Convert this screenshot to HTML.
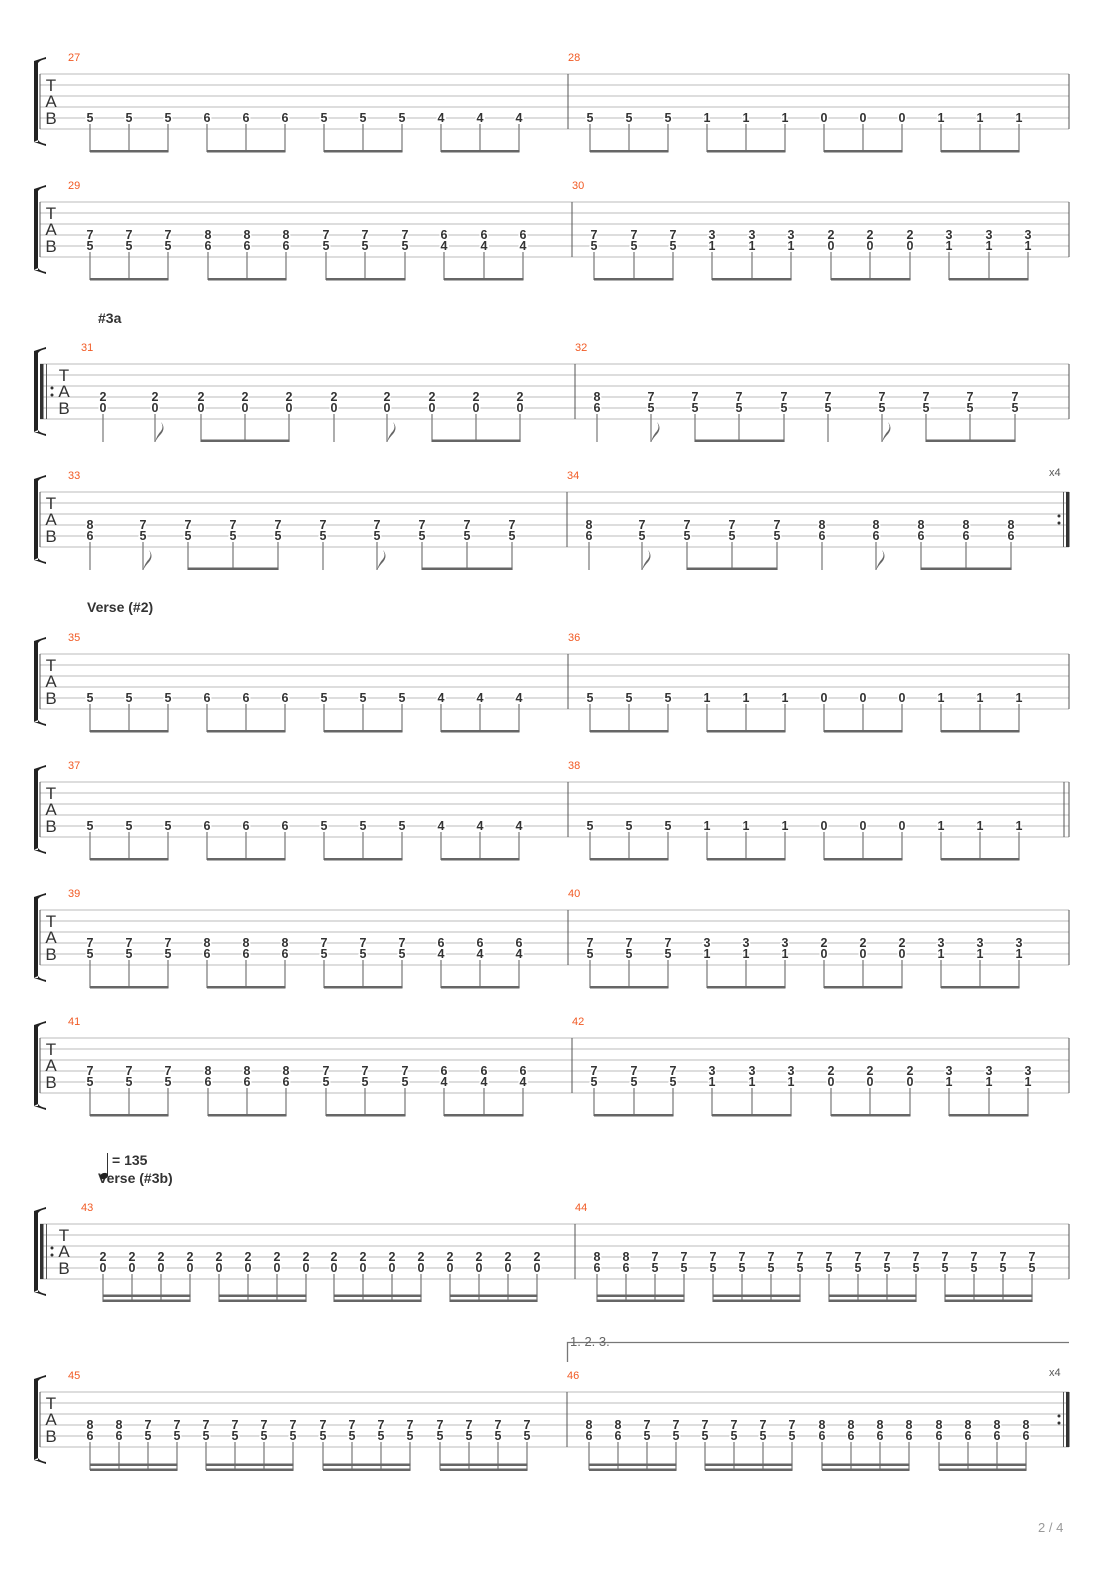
<!DOCTYPE html>
<html><head><meta charset="utf-8"><style>
html,body{margin:0;padding:0;background:#fff;}
svg{display:block;}
.n{font-family:"Liberation Sans",sans-serif;font-size:12.5px;font-weight:bold;fill:#333;text-anchor:middle;stroke:#fff;stroke-width:3px;paint-order:stroke;}
.m{font-family:"Liberation Sans",sans-serif;font-size:11px;fill:#f15a24;}
.tab{font-family:"Liberation Sans",sans-serif;font-size:17px;fill:#333;text-anchor:middle;}
.lbl{font-family:"Liberation Sans",sans-serif;font-size:14px;font-weight:bold;fill:#333;}
.st line{stroke:#bbb;stroke-width:1;}
.sm{stroke:#777;stroke-width:1.2;}
.bm{fill:#666;}
</style></head><body>
<svg width="1110" height="1570" viewBox="0 0 1110 1570" xmlns="http://www.w3.org/2000/svg">

<!-- ============ SYSTEM 1 (27/28) ============ -->
<g transform="translate(0,74)">
<g class="st"><line x1="40" y1="0" x2="1069" y2="0"/><line x1="40" y1="11" x2="1069" y2="11"/><line x1="40" y1="22" x2="1069" y2="22"/><line x1="40" y1="33" x2="1069" y2="33"/><line x1="40" y1="44" x2="1069" y2="44"/><line x1="40" y1="55" x2="1069" y2="55"/></g>
<path d="M34,-13 h4 v81 h-4z M34,-13 q6,-2 12,-4 l0,2 q-6,1 -8,4z M34,68 q6,2 12,4 l0,-2 q-6,-1 -8,-4z" fill="#222"/>
<line x1="40" y1="0" x2="40" y2="55" stroke="#555"/><line x1="568" y1="0" x2="568" y2="55" stroke="#555"/><line x1="1069" y1="0" x2="1069" y2="55" stroke="#555"/>
<text class="tab" x="51" y="17">T</text><text class="tab" x="51" y="33">A</text><text class="tab" x="51" y="50">B</text>
<text class="m" x="68" y="-13">27</text><text class="m" x="568" y="-13">28</text>
<g class="n"><text x="90" y="48">5</text><text x="129" y="48">5</text><text x="168" y="48">5</text><text x="207" y="48">6</text><text x="246" y="48">6</text><text x="285" y="48">6</text><text x="324" y="48">5</text><text x="363" y="48">5</text><text x="402" y="48">5</text><text x="441" y="48">4</text><text x="480" y="48">4</text><text x="519" y="48">4</text><text x="590" y="48">5</text><text x="629" y="48">5</text><text x="668" y="48">5</text><text x="707" y="48">1</text><text x="746" y="48">1</text><text x="785" y="48">1</text><text x="824" y="48">0</text><text x="863" y="48">0</text><text x="902" y="48">0</text><text x="941" y="48">1</text><text x="980" y="48">1</text><text x="1019" y="48">1</text></g>
<path class="sm" d="M90,50V78M129,50V78M168,50V78M207,50V78M246,50V78M285,50V78M324,50V78M363,50V78M402,50V78M441,50V78M480,50V78M519,50V78M590,50V78M629,50V78M668,50V78M707,50V78M746,50V78M785,50V78M824,50V78M863,50V78M902,50V78M941,50V78M980,50V78M1019,50V78"/>
<g class="bm"><rect x="90" y="76" width="78.5" height="2.5"/><rect x="207" y="76" width="78.5" height="2.5"/><rect x="324" y="76" width="78.5" height="2.5"/><rect x="441" y="76" width="78.5" height="2.5"/><rect x="590" y="76" width="78.5" height="2.5"/><rect x="707" y="76" width="78.5" height="2.5"/><rect x="824" y="76" width="78.5" height="2.5"/><rect x="941" y="76" width="78.5" height="2.5"/></g>
</g>

<!-- ============ SYSTEM 2 (29/30) ============ -->
<g transform="translate(0,202)">
<g class="st"><line x1="40" y1="0" x2="1069" y2="0"/><line x1="40" y1="11" x2="1069" y2="11"/><line x1="40" y1="22" x2="1069" y2="22"/><line x1="40" y1="33" x2="1069" y2="33"/><line x1="40" y1="44" x2="1069" y2="44"/><line x1="40" y1="55" x2="1069" y2="55"/></g>
<path d="M34,-13 h4 v81 h-4z M34,-13 q6,-2 12,-4 l0,2 q-6,1 -8,4z M34,68 q6,2 12,4 l0,-2 q-6,-1 -8,-4z" fill="#222"/>
<line x1="40" y1="0" x2="40" y2="55" stroke="#555"/><line x1="572" y1="0" x2="572" y2="55" stroke="#555"/><line x1="1069" y1="0" x2="1069" y2="55" stroke="#555"/>
<text class="tab" x="51" y="17">T</text><text class="tab" x="51" y="33">A</text><text class="tab" x="51" y="50">B</text>
<text class="m" x="68" y="-13">29</text><text class="m" x="572" y="-13">30</text>
<g class="n">
<text x="90" y="37">7</text><text x="90" y="48">5</text><text x="129" y="37">7</text><text x="129" y="48">5</text><text x="168" y="37">7</text><text x="168" y="48">5</text>
<text x="208" y="37">8</text><text x="208" y="48">6</text><text x="247" y="37">8</text><text x="247" y="48">6</text><text x="286" y="37">8</text><text x="286" y="48">6</text>
<text x="326" y="37">7</text><text x="326" y="48">5</text><text x="365" y="37">7</text><text x="365" y="48">5</text><text x="405" y="37">7</text><text x="405" y="48">5</text>
<text x="444" y="37">6</text><text x="444" y="48">4</text><text x="484" y="37">6</text><text x="484" y="48">4</text><text x="523" y="37">6</text><text x="523" y="48">4</text>
<text x="594" y="37">7</text><text x="594" y="48">5</text><text x="634" y="37">7</text><text x="634" y="48">5</text><text x="673" y="37">7</text><text x="673" y="48">5</text>
<text x="712" y="37">3</text><text x="712" y="48">1</text><text x="752" y="37">3</text><text x="752" y="48">1</text><text x="791" y="37">3</text><text x="791" y="48">1</text>
<text x="831" y="37">2</text><text x="831" y="48">0</text><text x="870" y="37">2</text><text x="870" y="48">0</text><text x="910" y="37">2</text><text x="910" y="48">0</text>
<text x="949" y="37">3</text><text x="949" y="48">1</text><text x="989" y="37">3</text><text x="989" y="48">1</text><text x="1028" y="37">3</text><text x="1028" y="48">1</text>
</g>
<path class="sm" d="M90,50V78M129,50V78M168,50V78M208,50V78M247,50V78M286,50V78M326,50V78M365,50V78M405,50V78M444,50V78M484,50V78M523,50V78M594,50V78M634,50V78M673,50V78M712,50V78M752,50V78M791,50V78M831,50V78M870,50V78M910,50V78M949,50V78M989,50V78M1028,50V78"/>
<g class="bm"><rect x="90" y="76" width="78.5" height="2.5"/><rect x="208" y="76" width="78.5" height="2.5"/><rect x="326" y="76" width="79.5" height="2.5"/><rect x="444" y="76" width="79.5" height="2.5"/><rect x="594" y="76" width="79.5" height="2.5"/><rect x="712" y="76" width="79.5" height="2.5"/><rect x="831" y="76" width="79.5" height="2.5"/><rect x="949" y="76" width="79.5" height="2.5"/></g>
</g>

<!-- ============ SYSTEM 3 (31/32) ============ -->
<text class="lbl" x="98" y="323">#3a</text>
<g transform="translate(0,364)">
<g class="st"><line x1="40" y1="0" x2="1069" y2="0"/><line x1="40" y1="11" x2="1069" y2="11"/><line x1="40" y1="22" x2="1069" y2="22"/><line x1="40" y1="33" x2="1069" y2="33"/><line x1="40" y1="44" x2="1069" y2="44"/><line x1="40" y1="55" x2="1069" y2="55"/></g>
<path d="M34,-13 h4 v81 h-4z M34,-13 q6,-2 12,-4 l0,2 q-6,1 -8,4z M34,68 q6,2 12,4 l0,-2 q-6,-1 -8,-4z" fill="#222"/>
<rect x="40" y="0" width="3.5" height="55" fill="#333"/><line x1="46.5" y1="0" x2="46.5" y2="55" stroke="#555"/><circle cx="52" cy="24" r="1.5" fill="#333"/><circle cx="52" cy="31" r="1.5" fill="#333"/>
<line x1="575" y1="0" x2="575" y2="55" stroke="#555"/><line x1="1069" y1="0" x2="1069" y2="55" stroke="#555"/>
<text class="tab" x="64" y="17">T</text><text class="tab" x="64" y="33">A</text><text class="tab" x="64" y="50">B</text>
<text class="m" x="81" y="-13">31</text><text class="m" x="575" y="-13">32</text>
<g class="n">
<text x="103" y="37">2</text><text x="103" y="48">0</text><text x="155" y="37">2</text><text x="155" y="48">0</text><text x="201" y="37">2</text><text x="201" y="48">0</text><text x="245" y="37">2</text><text x="245" y="48">0</text><text x="289" y="37">2</text><text x="289" y="48">0</text>
<text x="334" y="37">2</text><text x="334" y="48">0</text><text x="387" y="37">2</text><text x="387" y="48">0</text><text x="432" y="37">2</text><text x="432" y="48">0</text><text x="476" y="37">2</text><text x="476" y="48">0</text><text x="520" y="37">2</text><text x="520" y="48">0</text>
<text x="597" y="37">8</text><text x="597" y="48">6</text><text x="651" y="37">7</text><text x="651" y="48">5</text><text x="695" y="37">7</text><text x="695" y="48">5</text><text x="739" y="37">7</text><text x="739" y="48">5</text><text x="784" y="37">7</text><text x="784" y="48">5</text>
<text x="828" y="37">7</text><text x="828" y="48">5</text><text x="882" y="37">7</text><text x="882" y="48">5</text><text x="926" y="37">7</text><text x="926" y="48">5</text><text x="970" y="37">7</text><text x="970" y="48">5</text><text x="1015" y="37">7</text><text x="1015" y="48">5</text>
</g>
<path class="sm" d="M103,50V78M155,50V78M201,50V78M245,50V78M289,50V78M334,50V78M387,50V78M432,50V78M476,50V78M520,50V78M597,50V78M651,50V78M695,50V78M739,50V78M784,50V78M828,50V78M882,50V78M926,50V78M970,50V78M1015,50V78"/>
<path d="M155,78 q2,-7 6,-11 q3,-4 0,-9 q5,6 0,12 q-3,3 -6,8z M387,78 q2,-7 6,-11 q3,-4 0,-9 q5,6 0,12 q-3,3 -6,8z M651,78 q2,-7 6,-11 q3,-4 0,-9 q5,6 0,12 q-3,3 -6,8z M882,78 q2,-7 6,-11 q3,-4 0,-9 q5,6 0,12 q-3,3 -6,8z" fill="#666"/>
<g class="bm"><rect x="201" y="75.5" width="88.5" height="2.5"/><rect x="432" y="75.5" width="88.5" height="2.5"/><rect x="695" y="75.5" width="89.5" height="2.5"/><rect x="926" y="75.5" width="89.5" height="2.5"/></g>
</g>

<!-- ============ SYSTEM 4 (33/34) ============ -->
<g transform="translate(0,492)">
<g class="st"><line x1="40" y1="0" x2="1069" y2="0"/><line x1="40" y1="11" x2="1069" y2="11"/><line x1="40" y1="22" x2="1069" y2="22"/><line x1="40" y1="33" x2="1069" y2="33"/><line x1="40" y1="44" x2="1069" y2="44"/><line x1="40" y1="55" x2="1069" y2="55"/></g>
<path d="M34,-13 h4 v81 h-4z M34,-13 q6,-2 12,-4 l0,2 q-6,1 -8,4z M34,68 q6,2 12,4 l0,-2 q-6,-1 -8,-4z" fill="#222"/>
<line x1="40" y1="0" x2="40" y2="55" stroke="#555"/><line x1="567" y1="0" x2="567" y2="55" stroke="#555"/>
<circle cx="1059" cy="24" r="1.5" fill="#333"/><circle cx="1059" cy="31" r="1.5" fill="#333"/><line x1="1063.5" y1="0" x2="1063.5" y2="55" stroke="#555"/><rect x="1066" y="0" width="3.5" height="55" fill="#333"/>
<text x="1049" y="-16" font-family="Liberation Sans, sans-serif" font-size="11" fill="#555">x4</text>
<text class="tab" x="51" y="17">T</text><text class="tab" x="51" y="33">A</text><text class="tab" x="51" y="50">B</text>
<text class="m" x="68" y="-13">33</text><text class="m" x="567" y="-13">34</text>
<g class="n">
<text x="90" y="37">8</text><text x="90" y="48">6</text><text x="143" y="37">7</text><text x="143" y="48">5</text><text x="188" y="37">7</text><text x="188" y="48">5</text><text x="233" y="37">7</text><text x="233" y="48">5</text><text x="278" y="37">7</text><text x="278" y="48">5</text>
<text x="323" y="37">7</text><text x="323" y="48">5</text><text x="377" y="37">7</text><text x="377" y="48">5</text><text x="422" y="37">7</text><text x="422" y="48">5</text><text x="467" y="37">7</text><text x="467" y="48">5</text><text x="512" y="37">7</text><text x="512" y="48">5</text>
<text x="589" y="37">8</text><text x="589" y="48">6</text><text x="642" y="37">7</text><text x="642" y="48">5</text><text x="687" y="37">7</text><text x="687" y="48">5</text><text x="732" y="37">7</text><text x="732" y="48">5</text><text x="777" y="37">7</text><text x="777" y="48">5</text>
<text x="822" y="37">8</text><text x="822" y="48">6</text><text x="876" y="37">8</text><text x="876" y="48">6</text><text x="921" y="37">8</text><text x="921" y="48">6</text><text x="966" y="37">8</text><text x="966" y="48">6</text><text x="1011" y="37">8</text><text x="1011" y="48">6</text>
</g>
<path class="sm" d="M90,50V78M143,50V78M188,50V78M233,50V78M278,50V78M323,50V78M377,50V78M422,50V78M467,50V78M512,50V78M589,50V78M642,50V78M687,50V78M732,50V78M777,50V78M822,50V78M876,50V78M921,50V78M966,50V78M1011,50V78"/>
<path d="M143,78 q2,-7 6,-11 q3,-4 0,-9 q5,6 0,12 q-3,3 -6,8z M377,78 q2,-7 6,-11 q3,-4 0,-9 q5,6 0,12 q-3,3 -6,8z M642,78 q2,-7 6,-11 q3,-4 0,-9 q5,6 0,12 q-3,3 -6,8z M876,78 q2,-7 6,-11 q3,-4 0,-9 q5,6 0,12 q-3,3 -6,8z" fill="#666"/>
<g class="bm"><rect x="188" y="75.5" width="90.5" height="2.5"/><rect x="422" y="75.5" width="90.5" height="2.5"/><rect x="687" y="75.5" width="90.5" height="2.5"/><rect x="921" y="75.5" width="90.5" height="2.5"/></g>
</g>

<!-- ============ SYSTEM 5 (35/36) ============ -->
<text class="lbl" x="87" y="612">Verse (#2)</text>
<g transform="translate(0,654)">
<g class="st"><line x1="40" y1="0" x2="1069" y2="0"/><line x1="40" y1="11" x2="1069" y2="11"/><line x1="40" y1="22" x2="1069" y2="22"/><line x1="40" y1="33" x2="1069" y2="33"/><line x1="40" y1="44" x2="1069" y2="44"/><line x1="40" y1="55" x2="1069" y2="55"/></g>
<path d="M34,-13 h4 v81 h-4z M34,-13 q6,-2 12,-4 l0,2 q-6,1 -8,4z M34,68 q6,2 12,4 l0,-2 q-6,-1 -8,-4z" fill="#222"/>
<line x1="40" y1="0" x2="40" y2="55" stroke="#555"/><line x1="568" y1="0" x2="568" y2="55" stroke="#555"/><line x1="1069" y1="0" x2="1069" y2="55" stroke="#555"/>
<text class="tab" x="51" y="17">T</text><text class="tab" x="51" y="33">A</text><text class="tab" x="51" y="50">B</text>
<text class="m" x="68" y="-13">35</text><text class="m" x="568" y="-13">36</text>
<g class="n"><text x="90" y="48">5</text><text x="129" y="48">5</text><text x="168" y="48">5</text><text x="207" y="48">6</text><text x="246" y="48">6</text><text x="285" y="48">6</text><text x="324" y="48">5</text><text x="363" y="48">5</text><text x="402" y="48">5</text><text x="441" y="48">4</text><text x="480" y="48">4</text><text x="519" y="48">4</text><text x="590" y="48">5</text><text x="629" y="48">5</text><text x="668" y="48">5</text><text x="707" y="48">1</text><text x="746" y="48">1</text><text x="785" y="48">1</text><text x="824" y="48">0</text><text x="863" y="48">0</text><text x="902" y="48">0</text><text x="941" y="48">1</text><text x="980" y="48">1</text><text x="1019" y="48">1</text></g>
<path class="sm" d="M90,50V78M129,50V78M168,50V78M207,50V78M246,50V78M285,50V78M324,50V78M363,50V78M402,50V78M441,50V78M480,50V78M519,50V78M590,50V78M629,50V78M668,50V78M707,50V78M746,50V78M785,50V78M824,50V78M863,50V78M902,50V78M941,50V78M980,50V78M1019,50V78"/>
<g class="bm"><rect x="90" y="76" width="78.5" height="2.5"/><rect x="207" y="76" width="78.5" height="2.5"/><rect x="324" y="76" width="78.5" height="2.5"/><rect x="441" y="76" width="78.5" height="2.5"/><rect x="590" y="76" width="78.5" height="2.5"/><rect x="707" y="76" width="78.5" height="2.5"/><rect x="824" y="76" width="78.5" height="2.5"/><rect x="941" y="76" width="78.5" height="2.5"/></g>
</g>

<!-- ============ SYSTEM 6 (37/38) ============ -->
<g transform="translate(0,782)">
<g class="st"><line x1="40" y1="0" x2="1069" y2="0"/><line x1="40" y1="11" x2="1069" y2="11"/><line x1="40" y1="22" x2="1069" y2="22"/><line x1="40" y1="33" x2="1069" y2="33"/><line x1="40" y1="44" x2="1069" y2="44"/><line x1="40" y1="55" x2="1069" y2="55"/></g>
<path d="M34,-13 h4 v81 h-4z M34,-13 q6,-2 12,-4 l0,2 q-6,1 -8,4z M34,68 q6,2 12,4 l0,-2 q-6,-1 -8,-4z" fill="#222"/>
<line x1="40" y1="0" x2="40" y2="55" stroke="#555"/><line x1="568" y1="0" x2="568" y2="55" stroke="#555"/><line x1="1064" y1="0" x2="1064" y2="55" stroke="#555"/><line x1="1069" y1="0" x2="1069" y2="55" stroke="#555"/>
<text class="tab" x="51" y="17">T</text><text class="tab" x="51" y="33">A</text><text class="tab" x="51" y="50">B</text>
<text class="m" x="68" y="-13">37</text><text class="m" x="568" y="-13">38</text>
<g class="n"><text x="90" y="48">5</text><text x="129" y="48">5</text><text x="168" y="48">5</text><text x="207" y="48">6</text><text x="246" y="48">6</text><text x="285" y="48">6</text><text x="324" y="48">5</text><text x="363" y="48">5</text><text x="402" y="48">5</text><text x="441" y="48">4</text><text x="480" y="48">4</text><text x="519" y="48">4</text><text x="590" y="48">5</text><text x="629" y="48">5</text><text x="668" y="48">5</text><text x="707" y="48">1</text><text x="746" y="48">1</text><text x="785" y="48">1</text><text x="824" y="48">0</text><text x="863" y="48">0</text><text x="902" y="48">0</text><text x="941" y="48">1</text><text x="980" y="48">1</text><text x="1019" y="48">1</text></g>
<path class="sm" d="M90,50V78M129,50V78M168,50V78M207,50V78M246,50V78M285,50V78M324,50V78M363,50V78M402,50V78M441,50V78M480,50V78M519,50V78M590,50V78M629,50V78M668,50V78M707,50V78M746,50V78M785,50V78M824,50V78M863,50V78M902,50V78M941,50V78M980,50V78M1019,50V78"/>
<g class="bm"><rect x="90" y="76" width="78.5" height="2.5"/><rect x="207" y="76" width="78.5" height="2.5"/><rect x="324" y="76" width="78.5" height="2.5"/><rect x="441" y="76" width="78.5" height="2.5"/><rect x="590" y="76" width="78.5" height="2.5"/><rect x="707" y="76" width="78.5" height="2.5"/><rect x="824" y="76" width="78.5" height="2.5"/><rect x="941" y="76" width="78.5" height="2.5"/></g>
</g>

<!-- ============ SYSTEM 7 (39/40) ============ -->
<g transform="translate(0,910)">
<g class="st"><line x1="40" y1="0" x2="1069" y2="0"/><line x1="40" y1="11" x2="1069" y2="11"/><line x1="40" y1="22" x2="1069" y2="22"/><line x1="40" y1="33" x2="1069" y2="33"/><line x1="40" y1="44" x2="1069" y2="44"/><line x1="40" y1="55" x2="1069" y2="55"/></g>
<path d="M34,-13 h4 v81 h-4z M34,-13 q6,-2 12,-4 l0,2 q-6,1 -8,4z M34,68 q6,2 12,4 l0,-2 q-6,-1 -8,-4z" fill="#222"/>
<line x1="40" y1="0" x2="40" y2="55" stroke="#555"/><line x1="568" y1="0" x2="568" y2="55" stroke="#555"/><line x1="1069" y1="0" x2="1069" y2="55" stroke="#555"/>
<text class="tab" x="51" y="17">T</text><text class="tab" x="51" y="33">A</text><text class="tab" x="51" y="50">B</text>
<text class="m" x="68" y="-13">39</text><text class="m" x="568" y="-13">40</text>
<g class="n">
<text x="90" y="37">7</text><text x="90" y="48">5</text><text x="129" y="37">7</text><text x="129" y="48">5</text><text x="168" y="37">7</text><text x="168" y="48">5</text>
<text x="207" y="37">8</text><text x="207" y="48">6</text><text x="246" y="37">8</text><text x="246" y="48">6</text><text x="285" y="37">8</text><text x="285" y="48">6</text>
<text x="324" y="37">7</text><text x="324" y="48">5</text><text x="363" y="37">7</text><text x="363" y="48">5</text><text x="402" y="37">7</text><text x="402" y="48">5</text>
<text x="441" y="37">6</text><text x="441" y="48">4</text><text x="480" y="37">6</text><text x="480" y="48">4</text><text x="519" y="37">6</text><text x="519" y="48">4</text>
<text x="590" y="37">7</text><text x="590" y="48">5</text><text x="629" y="37">7</text><text x="629" y="48">5</text><text x="668" y="37">7</text><text x="668" y="48">5</text>
<text x="707" y="37">3</text><text x="707" y="48">1</text><text x="746" y="37">3</text><text x="746" y="48">1</text><text x="785" y="37">3</text><text x="785" y="48">1</text>
<text x="824" y="37">2</text><text x="824" y="48">0</text><text x="863" y="37">2</text><text x="863" y="48">0</text><text x="902" y="37">2</text><text x="902" y="48">0</text>
<text x="941" y="37">3</text><text x="941" y="48">1</text><text x="980" y="37">3</text><text x="980" y="48">1</text><text x="1019" y="37">3</text><text x="1019" y="48">1</text>
</g>
<path class="sm" d="M90,50V78M129,50V78M168,50V78M207,50V78M246,50V78M285,50V78M324,50V78M363,50V78M402,50V78M441,50V78M480,50V78M519,50V78M590,50V78M629,50V78M668,50V78M707,50V78M746,50V78M785,50V78M824,50V78M863,50V78M902,50V78M941,50V78M980,50V78M1019,50V78"/>
<g class="bm"><rect x="90" y="76" width="78.5" height="2.5"/><rect x="207" y="76" width="78.5" height="2.5"/><rect x="324" y="76" width="78.5" height="2.5"/><rect x="441" y="76" width="78.5" height="2.5"/><rect x="590" y="76" width="78.5" height="2.5"/><rect x="707" y="76" width="78.5" height="2.5"/><rect x="824" y="76" width="78.5" height="2.5"/><rect x="941" y="76" width="78.5" height="2.5"/></g>
</g>

<!-- ============ SYSTEM 8 (41/42) ============ -->
<g transform="translate(0,1038)">
<g class="st"><line x1="40" y1="0" x2="1069" y2="0"/><line x1="40" y1="11" x2="1069" y2="11"/><line x1="40" y1="22" x2="1069" y2="22"/><line x1="40" y1="33" x2="1069" y2="33"/><line x1="40" y1="44" x2="1069" y2="44"/><line x1="40" y1="55" x2="1069" y2="55"/></g>
<path d="M34,-13 h4 v81 h-4z M34,-13 q6,-2 12,-4 l0,2 q-6,1 -8,4z M34,68 q6,2 12,4 l0,-2 q-6,-1 -8,-4z" fill="#222"/>
<line x1="40" y1="0" x2="40" y2="55" stroke="#555"/><line x1="572" y1="0" x2="572" y2="55" stroke="#555"/><line x1="1069" y1="0" x2="1069" y2="55" stroke="#555"/>
<text class="tab" x="51" y="17">T</text><text class="tab" x="51" y="33">A</text><text class="tab" x="51" y="50">B</text>
<text class="m" x="68" y="-13">41</text><text class="m" x="572" y="-13">42</text>
<g class="n">
<text x="90" y="37">7</text><text x="90" y="48">5</text><text x="129" y="37">7</text><text x="129" y="48">5</text><text x="168" y="37">7</text><text x="168" y="48">5</text>
<text x="208" y="37">8</text><text x="208" y="48">6</text><text x="247" y="37">8</text><text x="247" y="48">6</text><text x="286" y="37">8</text><text x="286" y="48">6</text>
<text x="326" y="37">7</text><text x="326" y="48">5</text><text x="365" y="37">7</text><text x="365" y="48">5</text><text x="405" y="37">7</text><text x="405" y="48">5</text>
<text x="444" y="37">6</text><text x="444" y="48">4</text><text x="484" y="37">6</text><text x="484" y="48">4</text><text x="523" y="37">6</text><text x="523" y="48">4</text>
<text x="594" y="37">7</text><text x="594" y="48">5</text><text x="634" y="37">7</text><text x="634" y="48">5</text><text x="673" y="37">7</text><text x="673" y="48">5</text>
<text x="712" y="37">3</text><text x="712" y="48">1</text><text x="752" y="37">3</text><text x="752" y="48">1</text><text x="791" y="37">3</text><text x="791" y="48">1</text>
<text x="831" y="37">2</text><text x="831" y="48">0</text><text x="870" y="37">2</text><text x="870" y="48">0</text><text x="910" y="37">2</text><text x="910" y="48">0</text>
<text x="949" y="37">3</text><text x="949" y="48">1</text><text x="989" y="37">3</text><text x="989" y="48">1</text><text x="1028" y="37">3</text><text x="1028" y="48">1</text>
</g>
<path class="sm" d="M90,50V78M129,50V78M168,50V78M208,50V78M247,50V78M286,50V78M326,50V78M365,50V78M405,50V78M444,50V78M484,50V78M523,50V78M594,50V78M634,50V78M673,50V78M712,50V78M752,50V78M791,50V78M831,50V78M870,50V78M910,50V78M949,50V78M989,50V78M1028,50V78"/>
<g class="bm"><rect x="90" y="76" width="78.5" height="2.5"/><rect x="208" y="76" width="78.5" height="2.5"/><rect x="326" y="76" width="79.5" height="2.5"/><rect x="444" y="76" width="79.5" height="2.5"/><rect x="594" y="76" width="79.5" height="2.5"/><rect x="712" y="76" width="79.5" height="2.5"/><rect x="831" y="76" width="79.5" height="2.5"/><rect x="949" y="76" width="79.5" height="2.5"/></g>
</g>

<!-- ============ SYSTEM 9 (43/44) ============ -->
<text class="lbl" x="98" y="1183">Verse (#3b)</text>
<line x1="107.5" y1="1153" x2="107.5" y2="1175" stroke="#333" stroke-width="1"/>
<ellipse cx="104" cy="1176" rx="4.2" ry="3" fill="#222" transform="rotate(-20 104 1176)"/>
<text class="lbl" x="112" y="1165">= 135</text>
<g transform="translate(0,1224)">
<g class="st"><line x1="40" y1="0" x2="1069" y2="0"/><line x1="40" y1="11" x2="1069" y2="11"/><line x1="40" y1="22" x2="1069" y2="22"/><line x1="40" y1="33" x2="1069" y2="33"/><line x1="40" y1="44" x2="1069" y2="44"/><line x1="40" y1="55" x2="1069" y2="55"/></g>
<path d="M34,-13 h4 v81 h-4z M34,-13 q6,-2 12,-4 l0,2 q-6,1 -8,4z M34,68 q6,2 12,4 l0,-2 q-6,-1 -8,-4z" fill="#222"/>
<rect x="40" y="0" width="3.5" height="55" fill="#333"/><line x1="46.5" y1="0" x2="46.5" y2="55" stroke="#555"/><circle cx="52" cy="24" r="1.5" fill="#333"/><circle cx="52" cy="31" r="1.5" fill="#333"/>
<line x1="575" y1="0" x2="575" y2="55" stroke="#555"/><line x1="1069" y1="0" x2="1069" y2="55" stroke="#555"/>
<text class="tab" x="64" y="17">T</text><text class="tab" x="64" y="33">A</text><text class="tab" x="64" y="50">B</text>
<text class="m" x="81" y="-13">43</text><text class="m" x="575" y="-13">44</text>
<g class="n">
<text x="103" y="37">2</text><text x="103" y="48">0</text><text x="132" y="37">2</text><text x="132" y="48">0</text><text x="161" y="37">2</text><text x="161" y="48">0</text><text x="190" y="37">2</text><text x="190" y="48">0</text>
<text x="219" y="37">2</text><text x="219" y="48">0</text><text x="248" y="37">2</text><text x="248" y="48">0</text><text x="277" y="37">2</text><text x="277" y="48">0</text><text x="306" y="37">2</text><text x="306" y="48">0</text>
<text x="334" y="37">2</text><text x="334" y="48">0</text><text x="363" y="37">2</text><text x="363" y="48">0</text><text x="392" y="37">2</text><text x="392" y="48">0</text><text x="421" y="37">2</text><text x="421" y="48">0</text>
<text x="450" y="37">2</text><text x="450" y="48">0</text><text x="479" y="37">2</text><text x="479" y="48">0</text><text x="508" y="37">2</text><text x="508" y="48">0</text><text x="537" y="37">2</text><text x="537" y="48">0</text>
<text x="597" y="37">8</text><text x="597" y="48">6</text><text x="626" y="37">8</text><text x="626" y="48">6</text><text x="655" y="37">7</text><text x="655" y="48">5</text><text x="684" y="37">7</text><text x="684" y="48">5</text>
<text x="713" y="37">7</text><text x="713" y="48">5</text><text x="742" y="37">7</text><text x="742" y="48">5</text><text x="771" y="37">7</text><text x="771" y="48">5</text><text x="800" y="37">7</text><text x="800" y="48">5</text>
<text x="829" y="37">7</text><text x="829" y="48">5</text><text x="858" y="37">7</text><text x="858" y="48">5</text><text x="887" y="37">7</text><text x="887" y="48">5</text><text x="916" y="37">7</text><text x="916" y="48">5</text>
<text x="945" y="37">7</text><text x="945" y="48">5</text><text x="974" y="37">7</text><text x="974" y="48">5</text><text x="1003" y="37">7</text><text x="1003" y="48">5</text><text x="1032" y="37">7</text><text x="1032" y="48">5</text>
</g>
<path class="sm" d="M103,50V78M132,50V78M161,50V78M190,50V78M219,50V78M248,50V78M277,50V78M306,50V78M334,50V78M363,50V78M392,50V78M421,50V78M450,50V78M479,50V78M508,50V78M537,50V78M597,50V78M626,50V78M655,50V78M684,50V78M713,50V78M742,50V78M771,50V78M800,50V78M829,50V78M858,50V78M887,50V78M916,50V78M945,50V78M974,50V78M1003,50V78M1032,50V78"/>
<g class="bm">
<rect x="103" y="70.5" width="87.5" height="2.5"/><rect x="103" y="75.5" width="87.5" height="2.5"/><rect x="219" y="70.5" width="87.5" height="2.5"/><rect x="219" y="75.5" width="87.5" height="2.5"/><rect x="334" y="70.5" width="87.5" height="2.5"/><rect x="334" y="75.5" width="87.5" height="2.5"/><rect x="450" y="70.5" width="87.5" height="2.5"/><rect x="450" y="75.5" width="87.5" height="2.5"/>
<rect x="597" y="70.5" width="87.5" height="2.5"/><rect x="597" y="75.5" width="87.5" height="2.5"/><rect x="713" y="70.5" width="87.5" height="2.5"/><rect x="713" y="75.5" width="87.5" height="2.5"/><rect x="829" y="70.5" width="87.5" height="2.5"/><rect x="829" y="75.5" width="87.5" height="2.5"/><rect x="945" y="70.5" width="87.5" height="2.5"/><rect x="945" y="75.5" width="87.5" height="2.5"/>
</g>
</g>

<!-- ============ SYSTEM 10 (45/46) ============ -->
<path d="M567.5,1362 V1342.5 H1069" fill="none" stroke="#777" stroke-width="1.3"/>
<text x="570" y="1346" font-family="Liberation Sans, sans-serif" font-size="13" fill="#666">1. 2. 3.</text>
<g transform="translate(0,1392)">
<g class="st"><line x1="40" y1="0" x2="1069" y2="0"/><line x1="40" y1="11" x2="1069" y2="11"/><line x1="40" y1="22" x2="1069" y2="22"/><line x1="40" y1="33" x2="1069" y2="33"/><line x1="40" y1="44" x2="1069" y2="44"/><line x1="40" y1="55" x2="1069" y2="55"/></g>
<path d="M34,-13 h4 v81 h-4z M34,-13 q6,-2 12,-4 l0,2 q-6,1 -8,4z M34,68 q6,2 12,4 l0,-2 q-6,-1 -8,-4z" fill="#222"/>
<line x1="40" y1="0" x2="40" y2="55" stroke="#555"/><line x1="567" y1="0" x2="567" y2="55" stroke="#555"/>
<circle cx="1059" cy="24" r="1.5" fill="#333"/><circle cx="1059" cy="31" r="1.5" fill="#333"/><line x1="1063.5" y1="0" x2="1063.5" y2="55" stroke="#555"/><rect x="1066" y="0" width="3.5" height="55" fill="#333"/>
<text x="1049" y="-16" font-family="Liberation Sans, sans-serif" font-size="11" fill="#555">x4</text>
<text class="tab" x="51" y="17">T</text><text class="tab" x="51" y="33">A</text><text class="tab" x="51" y="50">B</text>
<text class="m" x="68" y="-13">45</text><text class="m" x="567" y="-13">46</text>
<g class="n">
<text x="90" y="37">8</text><text x="90" y="48">6</text><text x="119" y="37">8</text><text x="119" y="48">6</text><text x="148" y="37">7</text><text x="148" y="48">5</text><text x="177" y="37">7</text><text x="177" y="48">5</text>
<text x="206" y="37">7</text><text x="206" y="48">5</text><text x="235" y="37">7</text><text x="235" y="48">5</text><text x="264" y="37">7</text><text x="264" y="48">5</text><text x="293" y="37">7</text><text x="293" y="48">5</text>
<text x="323" y="37">7</text><text x="323" y="48">5</text><text x="352" y="37">7</text><text x="352" y="48">5</text><text x="381" y="37">7</text><text x="381" y="48">5</text><text x="410" y="37">7</text><text x="410" y="48">5</text>
<text x="440" y="37">7</text><text x="440" y="48">5</text><text x="469" y="37">7</text><text x="469" y="48">5</text><text x="498" y="37">7</text><text x="498" y="48">5</text><text x="527" y="37">7</text><text x="527" y="48">5</text>
<text x="589" y="37">8</text><text x="589" y="48">6</text><text x="618" y="37">8</text><text x="618" y="48">6</text><text x="647" y="37">7</text><text x="647" y="48">5</text><text x="676" y="37">7</text><text x="676" y="48">5</text>
<text x="705" y="37">7</text><text x="705" y="48">5</text><text x="734" y="37">7</text><text x="734" y="48">5</text><text x="763" y="37">7</text><text x="763" y="48">5</text><text x="792" y="37">7</text><text x="792" y="48">5</text>
<text x="822" y="37">8</text><text x="822" y="48">6</text><text x="851" y="37">8</text><text x="851" y="48">6</text><text x="880" y="37">8</text><text x="880" y="48">6</text><text x="909" y="37">8</text><text x="909" y="48">6</text>
<text x="939" y="37">8</text><text x="939" y="48">6</text><text x="968" y="37">8</text><text x="968" y="48">6</text><text x="997" y="37">8</text><text x="997" y="48">6</text><text x="1026" y="37">8</text><text x="1026" y="48">6</text>
</g>
<path class="sm" d="M90,50V78M119,50V78M148,50V78M177,50V78M206,50V78M235,50V78M264,50V78M293,50V78M323,50V78M352,50V78M381,50V78M410,50V78M440,50V78M469,50V78M498,50V78M527,50V78M589,50V78M618,50V78M647,50V78M676,50V78M705,50V78M734,50V78M763,50V78M792,50V78M822,50V78M851,50V78M880,50V78M909,50V78M939,50V78M968,50V78M997,50V78M1026,50V78"/>
<g class="bm">
<rect x="90" y="71.5" width="87.5" height="2.5"/><rect x="90" y="76.5" width="87.5" height="2.5"/><rect x="206" y="71.5" width="87.5" height="2.5"/><rect x="206" y="76.5" width="87.5" height="2.5"/><rect x="323" y="71.5" width="87.5" height="2.5"/><rect x="323" y="76.5" width="87.5" height="2.5"/><rect x="440" y="71.5" width="87.5" height="2.5"/><rect x="440" y="76.5" width="87.5" height="2.5"/>
<rect x="589" y="71.5" width="87.5" height="2.5"/><rect x="589" y="76.5" width="87.5" height="2.5"/><rect x="705" y="71.5" width="87.5" height="2.5"/><rect x="705" y="76.5" width="87.5" height="2.5"/><rect x="822" y="71.5" width="87.5" height="2.5"/><rect x="822" y="76.5" width="87.5" height="2.5"/><rect x="939" y="71.5" width="87.5" height="2.5"/><rect x="939" y="76.5" width="87.5" height="2.5"/>
</g>
</g>

<text x="1038" y="1532" font-family="Liberation Sans, sans-serif" font-size="13" fill="#999">2 / 4</text>
</svg>
</body></html>
